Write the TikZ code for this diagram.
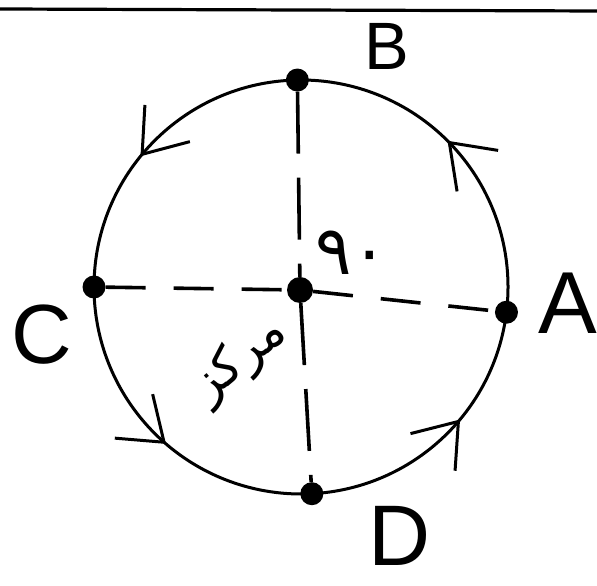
\documentclass[tikz,border=0pt]{standalone}
\usepackage{fontspec}
\setmainfont{Liberation Sans}
\newfontfamily\arabicfont[Script=Arabic]{DejaVu Sans}
\TeXXeTstate=1
\usetikzlibrary{arrows.meta,decorations.markings}

\begin{document}
\begin{tikzpicture}[
  x=1pt, y=1pt,
  rim/.style={line width=3pt, postaction={decorate},
    decoration={markings, mark=at position #1 with {\arrow{Straight Barb[length=40pt,width=58pt]}}}},
  dot/.style={circle, fill=black, inner sep=0pt, minimum size=23pt},
  vdiam/.style={line width=3.6pt, dash pattern=on 62pt off 24pt},
  hdiam/.style={line width=3.6pt, dash pattern=on 40pt off 28pt},
  letter/.style={inner sep=0pt, font=\fontsize{#1}{#1}\selectfont}
]
\useasboundingbox (0,0) rectangle (597,586);
\draw[line width=3.2pt] (0,577) -- (597,575);

% points on the circle
\coordinate (ctr) at (301,299);
\node[dot, minimum size=26pt] (O) at (300,296) {};
\node[dot] (A) at ([shift={(-7:207)}]ctr) {};
\node[dot] (B) at ([shift={(91:207)}]ctr) {};
\node[dot] (C) at ([shift={(180:207)}]ctr) {};
\node[dot] (D) at ([shift={(273:207)}]ctr) {};

% circle, anticlockwise
\draw[rim=0.53] (A) arc[start angle=-7, end angle=91, radius=207];
\draw[rim=0.56] (B) arc[start angle=91, end angle=180, radius=207];
\draw[rim=0.53] (C) arc[start angle=180, end angle=273, radius=207];
\draw[rim=0.59] (D) arc[start angle=273, end angle=353, radius=207];

\draw[hdiam] (C) -- (O) -- (A);
\draw[vdiam] (B) -- (O) -- (D);

% labels
\node[letter=67] (labB) at (387,540) {B};
\node[letter=88] (labA) at (568,283) {A};
\node[letter=84] (labC) at (42,251) {C};
\node[letter=86] (labD) at (400,50) {D};
\node[inner sep=0pt, font=\arabicfont\fontsize{68}{68}\selectfont] (deg) at (352,333) {٩٠};
\node[inner sep=0pt, rotate=40, font=\arabicfont\fontsize{50}{50}\selectfont] (mrkz) at (240,226) {\beginR مرکز\endR};
\end{tikzpicture}
\end{document}
